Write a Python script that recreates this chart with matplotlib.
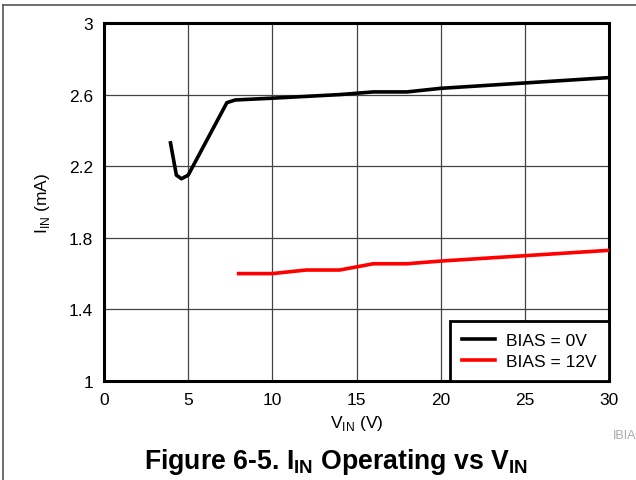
import matplotlib
matplotlib.use('Agg')
import matplotlib.pyplot as plt
from matplotlib.lines import Line2D

plt.rcParams['font.family'] = ['Liberation Sans', 'DejaVu Sans']
plt.rcParams['mathtext.fontset'] = 'custom'
plt.rcParams['mathtext.rm'] = 'Liberation Sans'
plt.rcParams['mathtext.bf'] = 'Liberation Sans:bold'

# BIAS = 0V
vin_0v = [3.95, 4.3, 4.6, 5.0, 7.3, 7.8, 10, 14, 16, 18, 20, 25, 30]
iin_0v = [2.33, 2.15, 2.13, 2.15, 2.555, 2.57, 2.58, 2.60, 2.615, 2.615, 2.635, 2.665, 2.695]

# BIAS = 12V
vin_12v = [8, 10, 12, 14, 16, 18, 20, 25, 30]
iin_12v = [1.60, 1.60, 1.62, 1.62, 1.655, 1.655, 1.67, 1.70, 1.73]

xticks = [0, 5, 10, 15, 20, 25, 30]
yticks = [1, 1.4, 1.8, 2.2, 2.6, 3]
ytick_labels = ['1', '1.4', '1.8', '2.2', '2.6', '3']

fig = plt.figure(figsize=(6.36, 4.81), dpi=100)
ax = fig.add_axes([104/636, 1-382/481, 505/636, 358/481])

ax.plot(vin_0v, iin_0v, color='black', lw=2.6, label='BIAS = 0V', zorder=3)
ax.plot(vin_12v, iin_12v, color='#ff0000', lw=2.6, label='BIAS = 12V', zorder=3)

ax.set_xlim(0, 30)
ax.set_ylim(1, 3)
ax.set_xticks(xticks)
ax.set_yticks(yticks)
ax.set_yticklabels(ytick_labels)
ax.tick_params(length=0, labelsize=12.5, pad=8)
ax.grid(True, color='#444444', lw=0.9)
for s in ax.spines.values():
    s.set_linewidth(2.2)

ax.set_xlabel(r'V$_{\mathregular{IN}}$ (V)', fontsize=12.5, labelpad=4)
ax.set_ylabel(r'I$_{\mathregular{IN}}$ (mA)', fontsize=12.5, labelpad=12)

leg = ax.legend(loc='lower right', borderaxespad=0, fancybox=False, framealpha=1,
                edgecolor='black', fontsize=12.5, handlelength=1.9, labelspacing=0.3,
                borderpad=0.7, handletextpad=0.65)
leg.get_frame().set_linewidth(2)
leg.set_zorder(5)

fig.text(336/636, 1-462/481, r'Figure 6-5. I$_{\mathbf{IN}}$ Operating vs V$_{\mathbf{IN}}$',
         ha='center', va='center', fontsize=19.2, fontweight='bold')
fig.text(1.0, 1-436/481, 'IBIA', ha='right', va='center', fontsize=9, color='#aaaaaa')

# page frame lines
fig.add_artist(Line2D([3/636, 1], [1-6/481, 1-6/481], color='#555555', lw=1.2))
fig.add_artist(Line2D([3/636, 3/636], [0, 1-6/481], color='#555555', lw=1.2))

fig.savefig('out.png', dpi=100)
